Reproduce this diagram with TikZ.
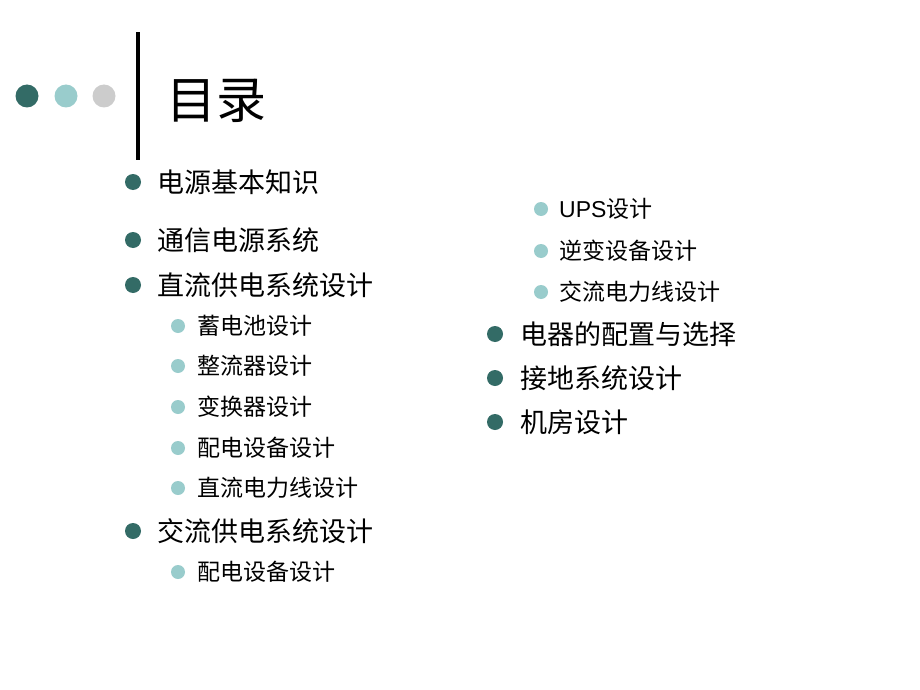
\documentclass[tikz,border=0pt]{standalone}
\usepackage{fontspec}
\setmainfont{Noto Sans CJK SC}
\setsansfont{Liberation Sans}
\definecolor{dk}{HTML}{336B66}
\definecolor{lt}{HTML}{99CCCC}
\definecolor{gr}{HTML}{CCCCCC}
\begin{document}
\begin{tikzpicture}[x=1pt,y=-1pt,
 l1/.style={anchor=west,inner sep=0pt,font=\fontsize{27}{27}\selectfont},
 l2/.style={anchor=west,inner sep=0pt,font=\fontsize{23}{23}\selectfont},
 b1/.style={circle,fill=dk,minimum size=16pt,inner sep=0pt},
 b2/.style={circle,fill=lt,minimum size=14pt,inner sep=0pt}]
\useasboundingbox[fill=white] (0,0) rectangle (920,690);
\fill[black] (135.5,32) rectangle (139.5,160);
\node[circle,fill=dk,minimum size=23pt,inner sep=0pt] (d1) at (27,96) {};
\node[circle,fill=lt,minimum size=23pt,inner sep=0pt] (d2) at (66,96) {};
\node[circle,fill=gr,minimum size=23pt,inner sep=0pt] (d3) at (104,96) {};
\node[anchor=west,inner sep=0pt,font=\fontsize{50}{50}\selectfont] (t) at (166,101) {目录};
\foreach \y/\t [count=\i] in {182/电源基本知识,240/通信电源系统,285/直流供电系统设计,531/交流供电系统设计}{
 \node[b1] (a\i) at (133,\y) {};
 \node[l1] (at\i) at (157,\y) {\t};}
\foreach \y/\t [count=\i] in {326/蓄电池设计,366/整流器设计,407/变换器设计,448/配电设备设计,488/直流电力线设计,572/配电设备设计}{
 \node[b2] (s\i) at (178,\y) {};
 \node[l2] (st\i) at (197,\y) {\t};}
\foreach \y/\t [count=\i] in {209/{\sffamily UPS}设计,251/逆变设备设计,292/交流电力线设计}{
 \node[b2] (r\i) at (541,\y) {};
 \node[l2] (rt\i) at (559,\y) {\t};}
\foreach \y/\t [count=\i] in {334/电器的配置与选择,378/接地系统设计,422/机房设计}{
 \node[b1] (q\i) at (495,\y) {};
 \node[l1] (qt\i) at (520,\y) {\t};}
\end{tikzpicture}
\end{document}
